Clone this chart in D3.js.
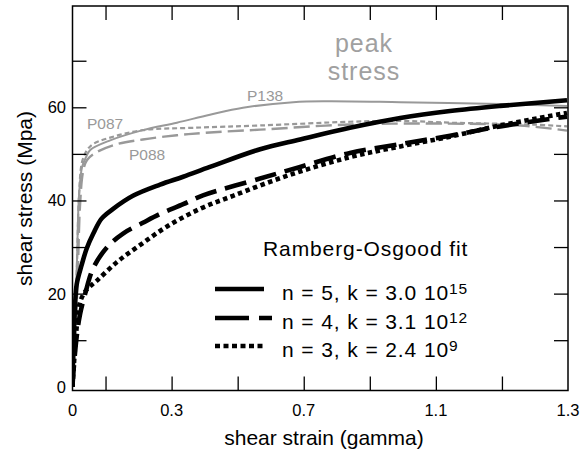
<!DOCTYPE html>
<html>
<head>
<meta charset="utf-8">
<script src="https://cdn.jsdelivr.net/npm/d3@7/dist/d3.min.js"></script>
<style>
  body { margin: 0; background: #fff; }
  svg { display: block; }
  text { font-family: "Liberation Sans", Arial, Helvetica, sans-serif; }
</style>
</head>
<body>
<svg id="chart" width="580" height="452"></svg>
<script>
// Measured shear stress (MPa) vs shear strain for three samples
const strainP138 = [0, 0.0076, 0.0136, 0.0197, 0.029, 0.041, 0.053, 0.114, 0.213, 0.316, 0.416, 0.516, 0.668, 0.770, 0.992, 1.295, 1.497];
const stressP138 = [0, 13.5, 27.2, 41.1, 47.2, 49.3, 50.8, 52.9, 55.1, 56.7, 58.4, 59.9, 61.1, 61.3, 61.1, 60.7, 60.3];

const strainP087 = [0, 0.0076, 0.0136, 0.0197, 0.029, 0.044, 0.062, 0.114, 0.213, 0.365, 0.568, 0.840, 0.992, 1.143, 1.394, 1.497];
const stressP087 = [0, 13.5, 26.2, 41.1, 48.3, 50.8, 52.1, 53.5, 55.1, 55.6, 56.1, 56.9, 57.1, 56.7, 56.3, 55.9];

const strainP088 = [0, 0.0106, 0.0167, 0.0227, 0.032, 0.044, 0.074, 0.135, 0.213, 0.316, 0.416, 0.568, 0.840, 1.143, 1.355, 1.497];
const stressP088 = [0, 13.5, 26.2, 38.8, 46.2, 48.7, 50.4, 52.1, 53.1, 54.0, 54.6, 55.2, 56.3, 56.5, 56.1, 55.0];

// Ramberg-Osgood fits
const strainFit5 = [0, 0.003, 0.0076, 0.0127, 0.028, 0.043, 0.063, 0.088, 0.123, 0.183, 0.265, 0.335, 0.416, 0.568, 0.689, 0.840, 0.992, 1.143, 1.295, 1.497];
const stressFit5 = [0, 9.3, 17.1, 22.0, 26.2, 29.7, 32.9, 36.1, 38.2, 41.0, 43.4, 45.1, 47.2, 51.0, 53.1, 55.6, 57.7, 59.2, 60.3, 61.5];

const strainFit4 = [0, 0.0015, 0.0127, 0.023, 0.038, 0.063, 0.104, 0.153, 0.213, 0.265, 0.335, 0.395, 0.568, 0.689, 0.840, 0.992, 1.143, 1.295, 1.497];
const stressFit4 = [0, 1.9, 10.8, 15.6, 19.9, 25.5, 29.9, 32.9, 35.2, 37.1, 39.2, 41.1, 44.7, 47.2, 50.2, 52.1, 53.9, 55.9, 58.0];

const strainFit3 = [0, 0.0045, 0.0136, 0.023, 0.041, 0.074, 0.135, 0.204, 0.286, 0.386, 0.486, 0.658, 0.840, 0.992, 1.143, 1.295, 1.497];
const stressFit3 = [0, 5.1, 13.5, 18.2, 20.7, 22.8, 26.8, 30.4, 34.4, 38.2, 41.0, 45.5, 49.3, 51.6, 53.7, 56.1, 58.8];

// Axis ticks and labels
const xLabelValues = [0, 0.3, 0.7, 1.1, 1.5];
const xLabelTexts = ["0", "0.3", "0.7", "1.1", "1.3"];
const xMinorTicks = [0.1, 0.3, 0.5, 0.7, 0.9, 1.1, 1.3];
const yLabelValues = [0, 20, 40, 60];
const yMinorTicks = [10, 20, 30, 40, 50, 60, 70];

const sampleNames = ["P138", "P087", "P088"];
const fitLabels = ["n = 5, k = 3.0 10", "n = 4, k = 3.1 10", "n = 3, k = 2.4 10"];
const fitExponents = ["15", "12", "9"];

const svg = d3.select("#chart");
const W = 580, H = 452;
const m = { left: 72.5, right: 568, top: 6, bottom: 390.5 };

svg.append("rect").attr("width", W).attr("height", H).attr("fill", "#fff");

const x = d3.scaleLinear().domain([0, 1.5]).range([m.left, m.right]);
const y = d3.scaleLinear().domain([-0.8, 81.75]).range([m.bottom, m.top]);

svg.append("defs").append("clipPath").attr("id", "plot")
  .append("rect").attr("x", m.left).attr("y", m.top)
  .attr("width", m.right - m.left).attr("height", m.bottom - m.top);

const line = d3.line()
  .x(d => x(d[0])).y(d => y(d[1]))
  .curve(d3.curveCatmullRom.alpha(0.5));

const zip = (a, b) => a.map((v, i) => [v, b[i]]);

const gray = "#999";
const series = [
  { pts: zip(strainP138, stressP138), color: gray, width: 2, dash: null },
  { pts: zip(strainP087, stressP087), color: gray, width: 2.2, dash: "5,3" },
  { pts: zip(strainP088, stressP088), color: gray, width: 2.4, dash: "16,6" },
  { pts: zip(strainFit5, stressFit5), color: "#000", width: 4.6, dash: null },
  { pts: zip(strainFit4, stressFit4), color: "#000", width: 4.6, dash: "22,9" },
  { pts: zip(strainFit3, stressFit3), color: "#000", width: 4.6, dash: "4.5,3.5" }
];

const plot = svg.append("g").attr("clip-path", "url(#plot)");
series.forEach(s => {
  plot.append("path")
    .attr("d", line(s.pts))
    .attr("fill", "none")
    .attr("stroke", s.color)
    .attr("stroke-width", s.width)
    .attr("stroke-dasharray", s.dash)
    .attr("stroke-linejoin", "round");
});

// Frame with inward ticks on all sides
const axes = svg.append("g");
const tickLen = 14;
axes.append("g").attr("transform", `translate(0,${m.bottom})`)
  .call(d3.axisBottom(x).tickValues(xMinorTicks).tickSizeInner(-tickLen).tickSizeOuter(0).tickFormat(""));
axes.append("g").attr("transform", `translate(0,${m.top})`)
  .call(d3.axisTop(x).tickValues(xMinorTicks).tickSizeInner(-tickLen).tickSizeOuter(0).tickFormat(""));
axes.append("g").attr("transform", `translate(${m.left},0)`)
  .call(d3.axisLeft(y).tickValues(yMinorTicks).tickSizeInner(-tickLen).tickSizeOuter(0).tickFormat(""));
axes.append("g").attr("transform", `translate(${m.right},0)`)
  .call(d3.axisRight(y).tickValues(yMinorTicks).tickSizeInner(-tickLen).tickSizeOuter(0).tickFormat(""));
axes.selectAll(".domain").remove();
axes.selectAll(".tick line").attr("stroke", "#000").attr("stroke-width", 1.3);

svg.append("rect")
  .attr("x", m.left).attr("y", m.top)
  .attr("width", m.right - m.left).attr("height", m.bottom - m.top)
  .attr("fill", "none").attr("stroke", "#000").attr("stroke-width", 1.5);

// Tick labels
svg.append("g").selectAll("text").data(xLabelValues).join("text")
  .attr("x", d => x(d)).attr("y", 416)
  .attr("text-anchor", "middle").attr("font-size", 16.5)
  .text((d, i) => xLabelTexts[i]);

svg.append("g").selectAll("text").data(yLabelValues).join("text")
  .attr("x", 66).attr("y", d => Math.min(y(d), 391)).attr("dy", "0.36em")
  .attr("text-anchor", "end").attr("font-size", 16.5)
  .text(d => d);

// Axis titles
svg.append("text").attr("x", 324).attr("y", 445)
  .attr("text-anchor", "middle").attr("font-size", 21)
  .text("shear strain (gamma)");
svg.append("text").attr("transform", "translate(32,198.5) rotate(-90)")
  .attr("text-anchor", "middle").attr("font-size", 21)
  .text("shear stress (Mpa)");

// Annotations
const note = svg.append("g").attr("fill", "#a0a0a0").attr("font-size", 25)
  .attr("letter-spacing", 1).attr("text-anchor", "middle");
note.append("text").attr("x", 364).attr("y", 52).text("peak");
note.append("text").attr("x", 364).attr("y", 80).text("stress");

const namePos = [[247, 101], [87, 128.5], [129, 160]];
svg.append("g").selectAll("text").data(sampleNames).join("text")
  .attr("x", (d, i) => namePos[i][0]).attr("y", (d, i) => namePos[i][1])
  .attr("fill", gray).attr("font-size", 15.5)
  .text(d => d);

// Legend
const legend = svg.append("g");
legend.append("text").attr("x", 263).attr("y", 256)
  .attr("font-size", 21).attr("letter-spacing", 0.9)
  .text("Ramberg-Osgood fit");

const legendLineY = [289, 318, 346];
const legendDash = [null, "34,10", "5,3.5"];
const legendEnd = [264, 272, 264];
fitLabels.forEach((lab, i) => {
  legend.append("line")
    .attr("x1", 215).attr("x2", legendEnd[i])
    .attr("y1", legendLineY[i]).attr("y2", legendLineY[i])
    .attr("stroke", "#000").attr("stroke-width", 4.6)
    .attr("stroke-dasharray", legendDash[i]);
  const t = legend.append("text").attr("x", 282).attr("y", legendLineY[i] + 11)
    .attr("font-size", 21).attr("letter-spacing", 0.9);
  t.append("tspan").text(lab);
  t.append("tspan").attr("dy", -6).attr("font-size", 15.5).text(fitExponents[i]);
});
</script>
</body>
</html>
